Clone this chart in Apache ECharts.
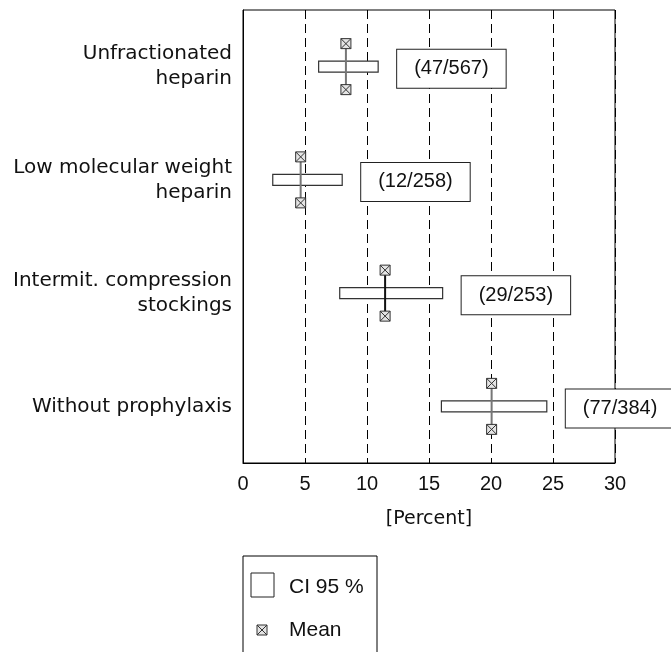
<!DOCTYPE html>
<html>
<head>
<meta charset="utf-8">
<script src="https://cdn.jsdelivr.net/npm/echarts@6/dist/echarts.min.js"></script>
<style>
  html, body { margin: 0; padding: 0; background: #fff; }
  #chart { width: 671px; height: 652px; }
</style>
</head>
<body>
<div id="chart"></div>
<script>
// categories (top to bottom)
const categories = [
  'Unfractionated\nheparin',
  'Low molecular weight\nheparin',
  'Intermit. compression\nstockings',
  'Without prophylaxis'
];
// mean rate, lower and upper 95% CI (percent)
const means = [8.3, 4.65, 11.46, 20.05];
const ciLow = [6.1, 2.4, 7.8, 16.0];
const ciHigh = [10.9, 8.0, 16.1, 24.5];
// events / patients
const events = [47, 12, 29, 77];
const totals = [567, 258, 253, 384];
const xTicks = [0, 5, 10, 15, 20, 25, 30];

const SANS = 'Liberation Sans, Arial, sans-serif';
const WIDE = 'DejaVu Sans, sans-serif';

// mean marker: small square with a cross
function marker(cx, cy, s) {
  const h = s / 2;
  return {
    type: 'group',
    children: [
      { type: 'rect', shape: { x: cx - h, y: cy - h, width: s, height: s },
        style: { fill: '#e4e4e4', stroke: '#333', lineWidth: 1 } },
      { type: 'line', shape: { x1: cx - h, y1: cy - h, x2: cx + h, y2: cy + h },
        style: { stroke: '#333', lineWidth: 1 } },
      { type: 'line', shape: { x1: cx + h, y1: cy - h, x2: cx - h, y2: cy + h },
        style: { stroke: '#333', lineWidth: 1 } }
    ]
  };
}

const seriesData = categories.map((c, i) => [ciLow[i], ciHigh[i], means[i], i]);

let chart = echarts.init(document.getElementById('chart'));
chart.setOption({
  animation: false,
  grid: {
    left: 243, right: 56, top: 10, bottom: 189,
    show: true, borderColor: '#000', borderWidth: 1
  },
  xAxis: {
    type: 'value',
    min: 0, max: 30, interval: 5,
    name: '[Percent]',
    nameLocation: 'middle',
    nameGap: 47,
    nameTextStyle: { fontSize: 19, color: '#111', fontFamily: WIDE },
    axisLine: { show: true, lineStyle: { color: '#000', width: 1 } },
    axisTick: { show: false },
    axisLabel: {
      fontSize: 20, color: '#111', fontFamily: SANS, margin: 11,
      formatter: v => xTicks.indexOf(v) >= 0 ? String(v) : ''
    },
    splitLine: { show: true, lineStyle: { color: '#000', width: 1, type: [9, 5] } }
  },
  yAxis: {
    type: 'category',
    data: categories,
    inverse: true,
    axisLine: { show: true, lineStyle: { color: '#000', width: 1 } },
    axisTick: { show: false },
    splitLine: { show: false },
    axisLabel: {
      fontSize: 20, color: '#111', fontFamily: WIDE, margin: 11,
      align: 'right', lineHeight: 25
    }
  },
  series: [{
    name: 'CI 95 %',
    type: 'custom',
    clip: false,
    encode: { x: [0, 1, 2], y: 3 },
    data: seriesData,
    renderItem: function (params, api) {
      const i = api.value(3);
      const pLow = api.coord([api.value(0), i]);
      const pHigh = api.coord([api.value(1), i]);
      const pMean = api.coord([api.value(2), i]);
      const cy = pLow[1];
      const barH = 11;
      const off = 23;
      const lineColor = i === 2 ? '#111' : '#777';
      return {
        type: 'group',
        children: [
          { type: 'rect',
            shape: { x: pLow[0], y: cy - barH / 2, width: pHigh[0] - pLow[0], height: barH },
            style: { fill: '#fff', stroke: '#333', lineWidth: 1.2 } },
          { type: 'line',
            shape: { x1: pMean[0], y1: cy - off, x2: pMean[0], y2: cy + off },
            style: { stroke: lineColor, lineWidth: 2 } },
          marker(pMean[0], cy - off, 10),
          marker(pMean[0], cy + off, 10),
          { type: 'text',
            z2: 10,
            style: {
              x: pHigh[0] + 19, y: cy + 2,
              text: '(' + events[i] + '/' + totals[i] + ')',
              font: '20px ' + SANS,
              fill: '#111',
              align: 'left',
              verticalAlign: 'middle',
              backgroundColor: '#fff',
              borderColor: '#222',
              borderWidth: 1,
              padding: [9, 17, 9, 17]
            } }
        ]
      };
    }
  }],
  graphic: [
    { type: 'rect',
      shape: { x: 243, y: 556, width: 134, height: 120 },
      style: { fill: '#fff', stroke: '#000', lineWidth: 1 } },
    { type: 'rect',
      shape: { x: 251, y: 573, width: 23, height: 24 },
      style: { fill: '#fff', stroke: '#222', lineWidth: 1 } },
    { type: 'text',
      style: { x: 289, y: 587, text: 'CI 95 %', font: '21px ' + SANS, fill: '#111',
               verticalAlign: 'middle' } },
    marker(262, 630, 10),
    { type: 'text',
      style: { x: 289, y: 630, text: 'Mean', font: '21px ' + SANS, fill: '#111',
               verticalAlign: 'middle' } }
  ]
});
</script>
</body>
</html>
